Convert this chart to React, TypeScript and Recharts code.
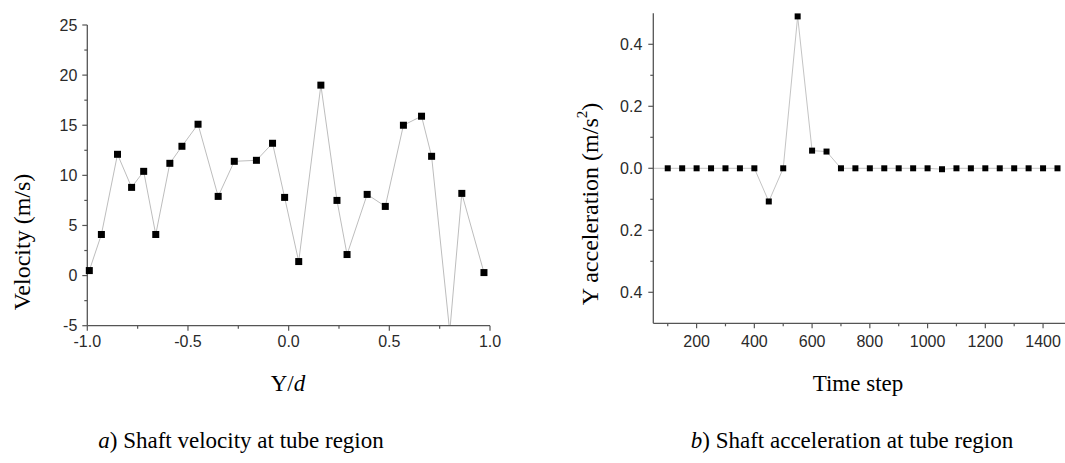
import React from "react";
import { LineChart, Line, XAxis, YAxis } from "recharts";

// a) shaft velocity vs Y/d
const velPos = [-0.99, -0.93, -0.85, -0.78, -0.72, -0.66, -0.59, -0.53, -0.45, -0.35, -0.27, -0.16, -0.08, -0.02, 0.05, 0.16, 0.24, 0.29, 0.39, 0.48, 0.57, 0.66, 0.71, 0.8, 0.86, 0.97];
const velValues = [0.5, 4.1, 12.1, 8.8, 10.4, 4.1, 11.2, 12.9, 15.1, 7.9, 11.4, 11.5, 13.2, 7.8, 1.4, 19.0, 7.5, 2.1, 8.1, 6.9, 15.0, 15.9, 11.9, -5.6, 8.2, 0.3];
const velXMajor = [-1, -0.5, 0, 0.5, 1];
const velXMinor = [-0.75, -0.25, 0.25, 0.75];
const velYMajor = [-5, 0, 5, 10, 15, 20, 25];
const velYMinor = [-2.5, 2.5, 7.5, 12.5, 17.5, 22.5];

// b) shaft acceleration vs time step
const timeSteps = [50, 100, 150, 200, 250, 300, 350, 400, 450, 500, 550, 600, 650, 700, 750, 800, 850, 900, 950, 1000, 1050, 1100, 1150, 1200, 1250, 1300, 1350, 1400, 1450];
const accValues = [0, 0, 0, 0, 0, 0, 0, 0, -0.107, 0, 0.49, 0.057, 0.054, 0, 0, 0, 0, 0, 0, 0, -0.003, 0, 0, 0, 0, 0, 0, 0, 0];
const timeMajor = [200, 400, 600, 800, 1000, 1200, 1400];
const timeMinor = [100, 300, 500, 700, 900, 1100, 1300];
const accMajor = [-0.4, -0.2, 0, 0.2, 0.4];
const accMinor = [-0.3, -0.1, 0.1, 0.3];

const velData = velPos.map((p, i) => ({ pos: p, v: velValues[i] }));
const accData = timeSteps.map((t, i) => ({ t, a: accValues[i] }));

const AXIS = "#555";
const SANS = "'Liberation Sans', Arial, sans-serif";
const SERIF = "'Liberation Serif', 'Times New Roman', serif";

function makeTick(side: "left" | "bottom", majors: number[], fmt: (v: number) => string, gap: number) {
  return (props: any) => {
    const { x, y, payload } = props;
    const v = payload.value;
    const major = majors.some((m) => Math.abs(m - v) < 1e-9);
    const len = major ? 5 : 3;
    if (side === "left") {
      return (
        <g>
          <line x1={x - len} x2={x} y1={y} y2={y} stroke={AXIS} strokeWidth={1.2} />
          {major && (
            <text x={x - gap} y={y} textAnchor="end" dominantBaseline="central" fontFamily={SANS} fontSize={16} fill="#2a2a2a">
              {fmt(v)}
            </text>
          )}
        </g>
      );
    }
    return (
      <g>
        <line x1={x} x2={x} y1={y} y2={y + len} stroke={AXIS} strokeWidth={1.2} />
        {major && (
          <text x={x} y={y + gap} textAnchor="middle" dominantBaseline="central" fontFamily={SANS} fontSize={16} fill="#2a2a2a">
            {fmt(v)}
          </text>
        )}
      </g>
    );
  };
}

function square(size: number, skipFirst: boolean) {
  return (p: any) => {
    if (p.cx == null || p.cy == null || (skipFirst && p.index === 0)) return <g key={p.index} />;
    return <rect key={p.index} x={p.cx - size / 2} y={p.cy - size / 2} width={size} height={size} fill="#000" />;
  };
}

export default function App() {
  return (
    <div style={{ position: "absolute", left: 0, top: 0, width: 1065, height: 463, background: "#fff" }}>
      <svg width={1065} height={463} style={{ position: "absolute", left: 0, top: 0 }}>
        <text transform="translate(22,242) rotate(-90)" textAnchor="middle" dominantBaseline="central" fontFamily={SERIF} fontSize={24}>
          Velocity (m/s)
        </text>
        <text x={288} y={383} textAnchor="middle" dominantBaseline="central" fontFamily={SERIF} fontSize={23}>
          Y/<tspan fontStyle="italic">d</tspan>
        </text>
        <text transform="translate(590,204) rotate(-90)" textAnchor="middle" dominantBaseline="central" fontFamily={SERIF} fontSize={24}>
          Y acceleration (m/s<tspan dy={-8} fontSize={15}>2</tspan><tspan dy={8}>)</tspan>
        </text>
        <text x={858} y={383} textAnchor="middle" dominantBaseline="central" fontFamily={SERIF} fontSize={23}>
          Time step
        </text>
        <text x={241} y={440} textAnchor="middle" dominantBaseline="central" fontFamily={SERIF} fontSize={23}>
          <tspan fontStyle="italic">a</tspan>) Shaft velocity at tube region
        </text>
        <text x={852} y={440} textAnchor="middle" dominantBaseline="central" fontFamily={SERIF} fontSize={23}>
          <tspan fontStyle="italic">b</tspan>) Shaft acceleration at tube region
        </text>
      </svg>

      <div style={{ position: "absolute", left: 0, top: 0 }}>
        <LineChart width={520} height={360} data={velData} margin={{ top: 25, right: 30, bottom: 33.3, left: 86.3 }}>
          <XAxis
            dataKey="pos"
            type="number"
            domain={[-1, 1]}
            ticks={[...velXMajor, ...velXMinor]}
            interval={0}
            height={1}
            tickSize={0}
            tickMargin={0}
            tickLine={false}
            axisLine={{ stroke: AXIS, strokeWidth: 1.3 }}
            tick={makeTick("bottom", velXMajor, (v) => v.toFixed(1), 16)}
          />
          <YAxis
            type="number"
            domain={[-5, 25]}
            allowDataOverflow
            ticks={[...velYMajor, ...velYMinor]}
            interval={0}
            width={1}
            tickSize={0}
            tickMargin={0}
            tickLine={false}
            axisLine={{ stroke: AXIS, strokeWidth: 1.3 }}
            tick={makeTick("left", velYMajor, (v) => String(v), 10)}
          />
          <Line dataKey="v" type="linear" stroke="#bdbdbd" strokeWidth={1} dot={square(7, false)} isAnimationActive={false} />
        </LineChart>
      </div>

      <div style={{ position: "absolute", left: 540, top: 0 }}>
        <LineChart width={525} height={360} data={accData} margin={{ top: 13.3, right: 0, bottom: 35.7, left: 112.3 }}>
          <XAxis
            dataKey="t"
            type="number"
            domain={[50, 1476]}
            ticks={[...timeMajor, ...timeMinor]}
            interval={0}
            height={1}
            tickSize={0}
            tickMargin={0}
            tickLine={false}
            axisLine={{ stroke: AXIS, strokeWidth: 1.3 }}
            tick={makeTick("bottom", timeMajor, (v) => String(v), 18)}
          />
          <YAxis
            type="number"
            domain={[-0.5, 0.5]}
            ticks={[...accMajor, ...accMinor]}
            interval={0}
            width={1}
            tickSize={0}
            tickMargin={0}
            tickLine={false}
            axisLine={{ stroke: AXIS, strokeWidth: 1.3 }}
            tick={makeTick("left", accMajor, (v) => Math.abs(v).toFixed(1), 11)}
          />
          <Line dataKey="a" type="linear" stroke="#c4c4c4" strokeWidth={1} dot={square(6, true)} isAnimationActive={false} />
        </LineChart>
      </div>
    </div>
  );
}
